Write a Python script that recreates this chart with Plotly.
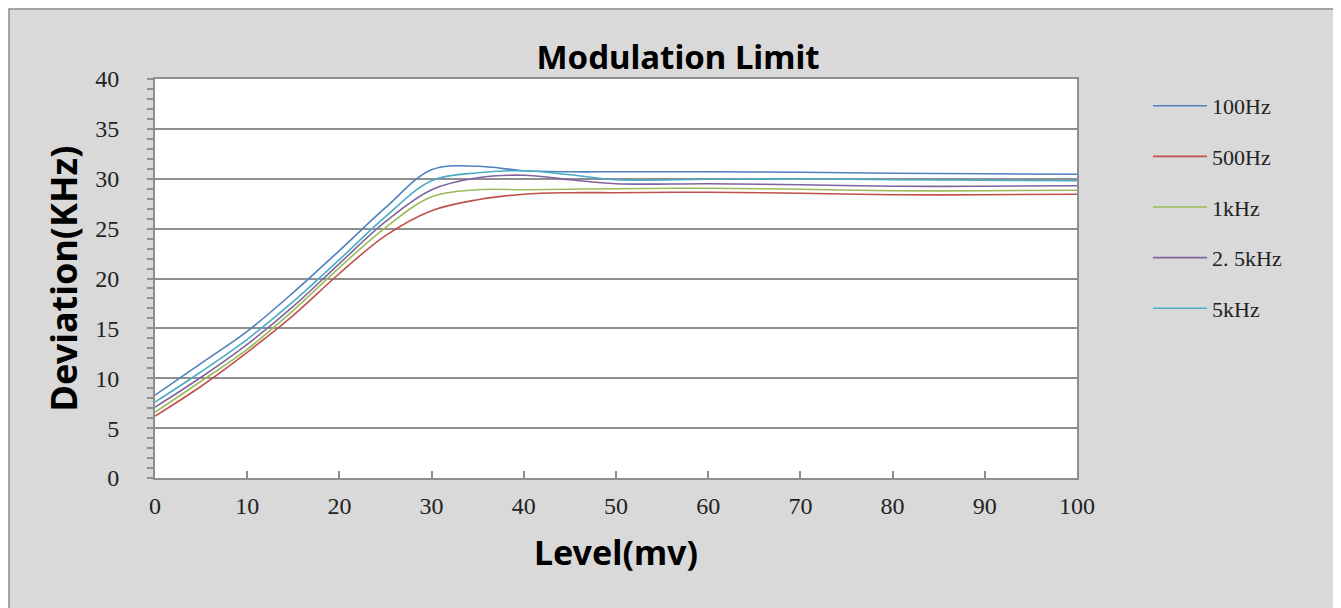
import plotly.graph_objects as go

level_mv = [0, 5, 10, 15, 20, 25, 30, 35, 40, 45, 50, 60, 70, 80, 90, 100]
dev_100hz = [8.3, 11.5, 14.7, 18.6, 22.8, 27.1, 30.9, 31.25, 30.8, 30.7, 30.7, 30.7, 30.65, 30.55, 30.5, 30.45]
dev_500hz = [6.2, 9.2, 12.6, 16.3, 20.5, 24.3, 26.8, 27.9, 28.45, 28.6, 28.6, 28.65, 28.55, 28.4, 28.4, 28.45]
dev_1khz = [6.6, 9.7, 12.9, 16.8, 21.1, 25.1, 28.2, 28.9, 28.9, 28.95, 29.0, 29.05, 28.95, 28.8, 28.8, 28.85]
dev_2_5khz = [7.1, 10.1, 13.4, 17.2, 21.5, 25.7, 28.9, 30.1, 30.35, 29.9, 29.5, 29.5, 29.4, 29.25, 29.25, 29.3]
dev_5khz = [7.6, 10.65, 13.9, 17.7, 21.9, 26.2, 29.8, 30.6, 30.8, 30.4, 29.9, 29.95, 30.0, 29.9, 29.85, 29.8]

series_names = ["100Hz", "500Hz", "1kHz", "2. 5kHz", "5kHz"]
series_values = [dev_100hz, dev_500hz, dev_1khz, dev_2_5khz, dev_5khz]
series_colors = ["#4F81BD", "#C0504D", "#9BBB59", "#8064A2", "#4BACC6"]

# page is offset by the 8px body margin
OFF = 8
W, H = 1341 - OFF, 608 - OFF
L, T = 155 - OFF, 79 - OFF
R = W - (1077 - OFF)
B = H - (478 - OFF)
pw, ph = W - L - R, H - T - B

def px_x(p):
    return (p - OFF - L) / pw

def px_y(p):
    return (H - B - (p - OFF)) / ph

fig = go.Figure()
for name, vals, col in zip(series_names, series_values, series_colors):
    fig.add_trace(go.Scatter(
        x=level_mv, y=vals, name=name, mode="lines",
        line=dict(color=col, width=1.6, shape="spline", smoothing=1.0),
        legendgroup=name,
    ))

tick_font = dict(family="Liberation Serif", size=24, color="#222222")
grid_col = "#8f8f8f"

fig.update_layout(
    width=W, height=H,
    margin=dict(l=L, r=R, t=T, b=B, autoexpand=False),
    paper_bgcolor="white",
    plot_bgcolor="white",
    title=dict(text="<b>Modulation Limit</b>", x=(678 - OFF) / W, xanchor="center",
               y=1 - (57 - OFF) / H, yanchor="middle",
               font=dict(family="Noto Sans", size=33, color="black")),
    showlegend=True,
    legend=dict(x=px_x(1148), y=px_y(85), xanchor="left", yanchor="top",
                bgcolor="rgba(0,0,0,0)", font=dict(family="Liberation Serif", size=22, color="#222222"),
                traceorder="grouped", tracegroupgap=19, itemwidth=54),
    shapes=[
        dict(type="rect", xref="paper", yref="paper",
             x0=px_x(OFF + 1), x1=px_x(1336), y0=px_y(612), y1=px_y(OFF + 1),
             fillcolor="#d9d9d9", line=dict(color="#8a8a8a", width=1.5), layer="below"),
        dict(type="rect", xref="paper", yref="paper",
             x0=0, x1=1, y0=0, y1=1,
             fillcolor="white", line=dict(width=0), layer="below"),
    ],
)

fig.update_xaxes(
    range=[0, 100], dtick=10, tick0=0,
    showgrid=False, zeroline=False,
    showline=True, linecolor=grid_col, linewidth=2, mirror=True,
    ticks="inside", ticklen=7, tickwidth=1.5, tickcolor=grid_col,
    tickfont=tick_font, ticklabelstandoff=5,
    title=dict(text="<b>Level(mv)</b>", standoff=23,
               font=dict(family="Noto Sans", size=34, color="black")),
)
fig.update_yaxes(
    range=[0, 40], dtick=5, tick0=0,
    showgrid=True, gridcolor=grid_col, gridwidth=2, zeroline=False,
    showline=True, linecolor=grid_col, linewidth=2, mirror=True,
    ticks="outside", ticklen=6, tickwidth=1.5, tickcolor=grid_col,
    minor=dict(dtick=1, ticks="outside", ticklen=6, tickwidth=1.5, tickcolor=grid_col, showgrid=False),
    tickfont=tick_font, ticklabelstandoff=23,
    title=dict(text="<b>Deviation(KHz)</b>", standoff=7,
               font=dict(family="Noto Sans", size=36, color="black")),
)

fig.write_html("out.html")
